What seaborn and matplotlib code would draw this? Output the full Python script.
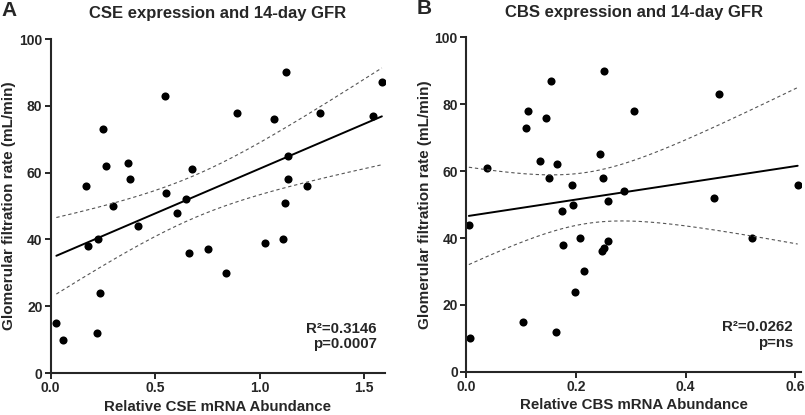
import numpy as np
import pandas as pd
import matplotlib
matplotlib.use("Agg")
import matplotlib.pyplot as plt
import seaborn as sns

# ----------------------------------------------
# DATA
# ----------------------------------------------
cse_mrna = [0.027, 0.06, 0.167, 0.18, 0.22, 0.225, 0.234, 0.25, 0.266, 0.30,
            0.37, 0.38, 0.416, 0.548, 0.55, 0.604, 0.648, 0.663, 0.675, 0.752,
            0.841, 0.892, 1.024, 1.067, 1.112, 1.121, 1.129, 1.136, 1.136,
            1.226, 1.29, 1.545, 1.586]
cse_gfr = [15, 10, 56, 38, 12, 40, 24, 73, 62, 50,
           63, 58, 44, 83, 54, 48, 52, 36, 61, 37,
           30, 78, 39, 76, 40, 51, 90, 65, 58,
           56, 78, 77, 87]

cbs_mrna = [0.005, 0.007, 0.038, 0.103, 0.11, 0.113, 0.135, 0.146, 0.151, 0.154,
            0.164, 0.165, 0.175, 0.177, 0.193, 0.195, 0.198, 0.208, 0.214, 0.244,
            0.248, 0.249, 0.251, 0.252, 0.258, 0.259, 0.288, 0.305, 0.452, 0.46,
            0.52, 0.604]
cbs_gfr = [44, 10, 61, 15, 73, 78, 63, 76, 58, 87,
           12, 62, 48, 38, 56, 50, 24, 40, 30, 65,
           36, 58, 37, 90, 51, 39, 54, 78, 52, 83,
           40, 56]

panels = [
    dict(letter="A", title="CSE expression and 14-day GFR",
         xlabel="Relative CSE mRNA Abundance", x=cse_mrna, y=cse_gfr,
         xlim=(0, 1.6), xticks=[0.0, 0.5, 1.0, 1.5],
         stats="R\u00b2=0.3146\np=0.0007"),
    dict(letter="B", title="CBS expression and 14-day GFR",
         xlabel="Relative CBS mRNA Abundance", x=cbs_mrna, y=cbs_gfr,
         xlim=(0, 0.61), xticks=[0.0, 0.2, 0.4, 0.6],
         stats="R\u00b2=0.0262\np=ns"),
]

T_CRIT = {31: 2.0395, 30: 2.0423}   # two-sided 95% t values

sns.set_style("ticks")
plt.rcParams["font.family"] = ["Liberation Sans", "DejaVu Sans"]
plt.rcParams["font.weight"] = "bold"


def conf_band(x, y, xs):
    x = np.asarray(x, float)
    y = np.asarray(y, float)
    n = len(x)
    b, a = np.polyfit(x, y, 1)
    resid = y - (a + b * x)
    s = np.sqrt(np.sum(resid ** 2) / (n - 2))
    sxx = np.sum((x - x.mean()) ** 2)
    se = s * np.sqrt(1.0 / n + (xs - x.mean()) ** 2 / sxx)
    fit = a + b * xs
    t = T_CRIT.get(n - 2, 2.04)
    return fit - t * se, fit + t * se


fig = plt.figure(figsize=(8.05, 4.15), dpi=100)
axes = [fig.add_axes([0.063, 0.101, 0.415, 0.805]),
        fig.add_axes([0.579, 0.104, 0.416, 0.806])]

for ax, p in zip(axes, panels):
    df = pd.DataFrame({"mrna": p["x"], "gfr": p["y"]})
    sns.regplot(data=df, x="mrna", y="gfr", ax=ax, ci=None, truncate=True,
                scatter_kws=dict(s=34, color="black", linewidths=0, alpha=1),
                line_kws=dict(color="black", linewidth=1.4))

    xs = np.linspace(min(p["x"]), max(p["x"]), 200)
    lo, hi = conf_band(p["x"], p["y"], xs)
    for band in (lo, hi):
        ax.plot(xs, band, color="#555555", linewidth=0.8, linestyle=(0, (3, 2.5)))

    ax.set_xlim(*p["xlim"])
    ax.set_ylim(0, 100)
    ax.set_xticks(p["xticks"])
    ax.set_xticklabels([f"{t:.1f}" for t in p["xticks"]])
    ax.set_yticks(range(0, 101, 20))
    ax.tick_params(labelsize=10, width=1.4, length=4, pad=2, direction="out")
    for lab in ax.get_xticklabels() + ax.get_yticklabels():
        lab.set_fontweight("bold")
    for side in ("left", "bottom"):
        ax.spines[side].set_linewidth(1.5)
    sns.despine(ax=ax)

    ax.set_xlabel(p["xlabel"], fontsize=10.8, fontweight="bold", labelpad=3)
    ax.set_ylabel("Glomerular filtration rate (mL/min)", fontsize=11,
                  fontweight="bold", labelpad=2)
    ax.set_title(p["title"], fontsize=12, fontweight="bold", pad=15)
    ax.text(-0.148, 1.085, p["letter"], transform=ax.transAxes, fontsize=15,
            fontweight="bold", ha="left", va="center")
    ax.text(0.976, 0.11, p["stats"], transform=ax.transAxes, fontsize=10.8,
            fontweight="bold", ha="right", va="center", linespacing=1.15)

fig.savefig("out.png", dpi=100)
